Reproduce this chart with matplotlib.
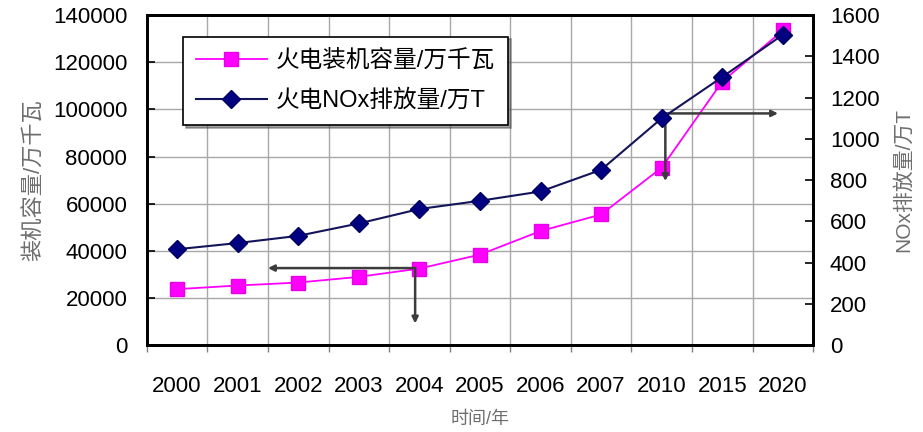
import numpy as np
import matplotlib
matplotlib.use('Agg')
import matplotlib.pyplot as plt

plt.rcParams['font.family'] = ['Liberation Sans', 'Noto Sans CJK SC', 'DejaVu Sans']

# data
years = ['2000', '2001', '2002', '2003', '2004', '2005', '2006', '2007', '2010', '2015', '2020']
capacity = [23754, 25301, 26555, 28977, 32490, 38413, 48405, 55442, 75300, 111800, 133500]  # 万千瓦
nox = [465, 495, 530, 590, 660, 700, 745, 850, 1100, 1300, 1505]  # 万T

# arrows (x in category index, y in left-axis units): start, end
arrows = [((3.93, 32700), (1.5, 32700)),
          ((3.93, 32700), (3.93, 9200)),
          ((8.06, 98300), (9.92, 98300)),
          ((8.06, 98300), (8.06, 69600))]

pink = '#FF00FF'
navy = '#000080'
grey_txt = '#6E6E6E'

fig = plt.figure(figsize=(9.23, 4.32), dpi=100)
ax1 = fig.add_axes([0.159, 0.201, 0.722, 0.764])
ax2 = ax1.twinx()

x = np.arange(len(years))

l1, = ax1.plot(x, capacity, color=pink, lw=1.3, marker='s', markersize=10,
               markerfacecolor=pink, markeredgecolor='#E800E8', label='火电装机容量/万千瓦')
l2, = ax2.plot(x, nox, color='#14145A', lw=1.5, marker='D', markersize=9,
               markerfacecolor=navy, markeredgecolor='#000060', label='火电NOx排放量/万T')

ax1.set_xlim(-0.5, len(years) - 0.5)
ax1.set_ylim(0, 140000)
ax2.set_ylim(0, 1600)
ax1.set_yticks(np.arange(0, 140001, 20000))
ax2.set_yticks(np.arange(0, 1601, 200))

# category labels at centres, grid at boundaries
ax1.set_xticks(x)
ax1.set_xticklabels(years, fontsize=16)
ax1.tick_params(axis='x', which='major', length=0, pad=22)
ax1.set_xticks(np.arange(-0.5, len(years)), minor=True)
ax1.tick_params(axis='x', which='minor', length=5, width=1, direction='out', color='#808080')
ax1.grid(True, which='minor', axis='x', color='#A8A8A8', lw=1)
ax1.grid(True, which='major', axis='y', color='#A8A8A8', lw=1)
ax1.set_axisbelow(True)

ax1.tick_params(axis='y', direction='in', length=6, width=1.2, labelsize=16, pad=14)
ax2.tick_params(axis='y', direction='in', length=6, width=1.2, labelsize=16, pad=12)

for ax in (ax1, ax2):
    for s in ax.spines.values():
        s.set_linewidth(2)
        s.set_color('black')

ax1.set_ylabel('装机容量/万千瓦', fontsize=16, color=grey_txt, labelpad=6)
ax2.set_ylabel('NOx排放量/万T', fontsize=15, color=grey_txt, labelpad=10)
ax1.set_xlabel('时间/年', fontsize=13, color=grey_txt, labelpad=10)

for (x0, y0), (x1, y1) in arrows:
    ax1.annotate('', xy=(x1, y1), xytext=(x0, y0),
                 arrowprops=dict(arrowstyle='-|>', color='#3C3C3C', lw=1.8,
                                 mutation_scale=9, shrinkA=0, shrinkB=0))

leg = ax2.legend(handles=[l1, l2], loc='upper left', bbox_to_anchor=(0.054, 0.935),
                 fontsize=17, frameon=True, fancybox=False, shadow=True,
                 handlelength=3.0, borderpad=0.55, labelspacing=0.75,
                 handletextpad=0.4, borderaxespad=0)
leg.get_frame().set_edgecolor('black')
leg.get_frame().set_linewidth(1.2)

fig.savefig('out.png', dpi=100)
